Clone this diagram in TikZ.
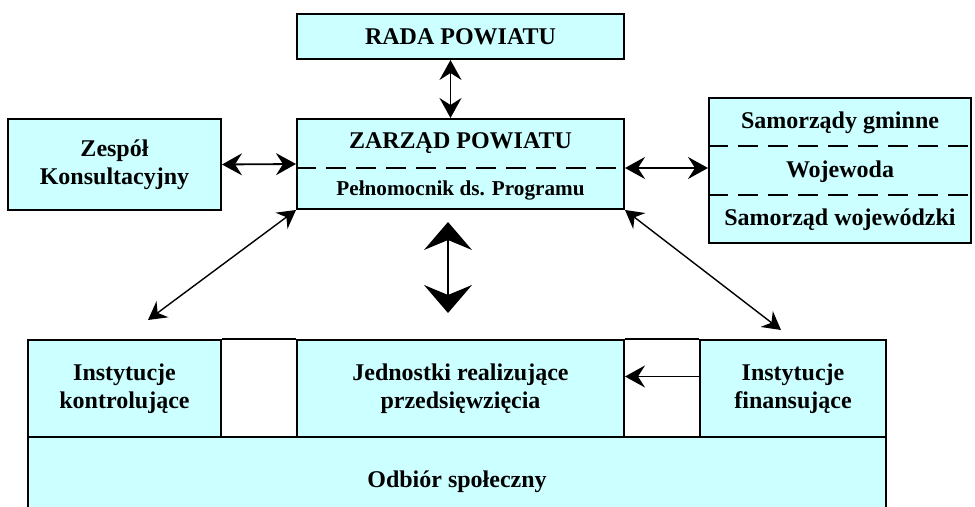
\documentclass[tikz,border=0pt]{standalone}
\usepackage{fontspec}
\setmainfont{Liberation Serif}
\usetikzlibrary{arrows.meta,calc}
\definecolor{boxcyan}{HTML}{CCFFFF}

\begin{document}
\begin{tikzpicture}[x=0.5pt, y=-0.5pt,
	box/.style={draw, line width=1pt, fill=boxcyan, inner sep=0pt, align=center,
		font=\fontsize{12}{14}\selectfont\bfseries},
	lbl/.style={inner sep=0pt, align=center, font=\fontsize{12}{14}\selectfont\bfseries},
	sublbl/.style={inner sep=0pt, font=\fontsize{10.6}{12}\selectfont\bfseries},
	sep/.style={line width=1pt, dash pattern=on 10pt off 5pt},
	both/.style={{Stealth[length=10pt, width=11pt, inset=3.5pt]}-{Stealth[length=10pt, width=11pt, inset=3.5pt]}, line width=0.9pt},
	thin/.style={{Stealth[length=9pt, width=10pt, inset=3pt]}-{Stealth[length=9pt, width=10pt, inset=3pt]}, line width=0.7pt},
	big/.style={{Stealth[length=14pt, width=24pt, inset=5pt]}-{Stealth[length=14pt, width=24pt, inset=5pt]}, line width=0.7pt}]
	\useasboundingbox (0,0) rectangle (975,507);
	\clip (0,0) rectangle (975,507);

	% upper part
	\node[box, minimum width=163.5pt, minimum height=22.5pt] (rada) at (460.5,36.5) {RADA POWIATU};
	\node[box, minimum width=163.5pt, minimum height=45pt] (zarzad) at (460.5,164) {};
	\node[lbl] (zarzadtxt) at (460.5,143) {ZARZĄD POWIATU};
	\node[sublbl] (pelnom) at (460.5,190) {Pełnomocnik ds. Programu};
	\draw[sep] ([yshift=-2pt]zarzad.west) -- ([yshift=-2pt]zarzad.east);
	\node[box, minimum width=106.5pt, minimum height=45.5pt] (zespol) at (114.5,164.5) {Zespół\\Konsultacyjny};
	\node[box, minimum width=131pt, minimum height=72.5pt] (inne) at (840,170.5) {};
	\node[lbl] (gminy) at (840,123) {Samorządy gminne};
	\node[lbl] (wojewoda) at (840,172) {Wojewoda};
	\node[lbl] (sejmik) at (840,220) {Samorząd wojewódzki};
	\draw[sep] ($(inne.north west)!1/3!(inne.south west)$) -- ($(inne.north east)!1/3!(inne.south east)$);
	\draw[sep] ($(inne.north west)!2/3!(inne.south west)$) -- ($(inne.north east)!2/3!(inne.south east)$);

	% lower part
	\node[box, minimum width=96.5pt, minimum height=48.5pt] (kontrol) at (124.5,388.5) {Instytucje\\kontrolujące};
	\node[box, minimum width=163.5pt, minimum height=48.5pt] (jednostki) at (460.5,388.5) {Jednostki realizujące\\przedsięwzięcia};
	\node[box, minimum width=93pt, minimum height=48.5pt] (finans) at (793,388.5) {Instytucje\\finansujące};
	\node[box, minimum width=429pt, minimum height=45pt] (odbior) at (457,482) {Odbiór społeczny};
	\draw[line width=1pt] (kontrol.north east) -- (jednostki.north west);
	\draw[line width=1pt] (jednostki.north east) -- (finans.north west);

	\coordinate (kontrolend) at (148,320);
	\coordinate (finansend) at (781,330);
	\coordinate (bigtop) at (448,222);
	\coordinate (bigbot) at (448,313);

	% connections
	\draw[both] ([xshift=-5pt]rada.south) -- ([xshift=-5pt]zarzad.north);
	\draw[both] (zespol.east) -- (zarzad.west);
	\draw[both] ([yshift=-2pt]zarzad.east) -- ([yshift=-2pt]zarzad.east -| inne.west);
	\draw[thin] (zarzad.south west) -- (kontrolend);
	\draw[thin] (zarzad.south east) -- (finansend);
	\draw[big] (bigtop) -- (bigbot);
	\draw[-{Stealth[length=10pt, width=11pt, inset=3.5pt]}, line width=0.9pt] ([yshift=6pt]finans.west) -- ([yshift=6pt]finans.west -| jednostki.east);
\end{tikzpicture}
\end{document}
